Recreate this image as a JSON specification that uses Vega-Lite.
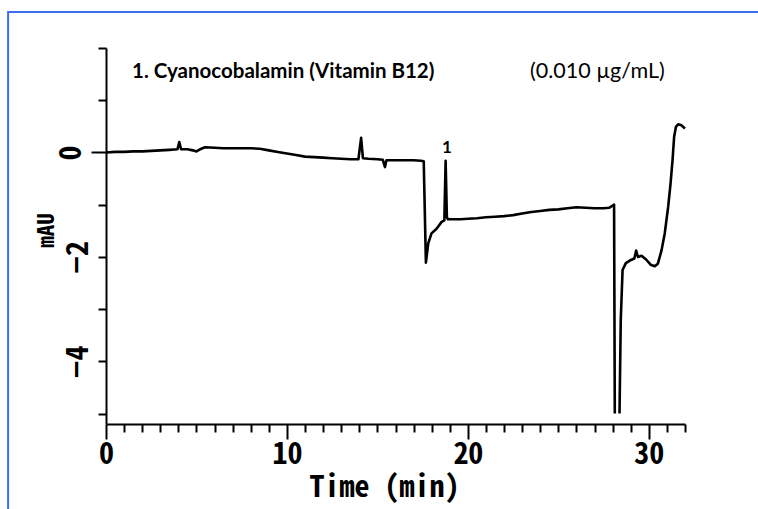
{
  "$schema": "https://vega.github.io/schema/vega-lite/v6.json",
  "width": 579,
  "height": 376,
  "autosize": "none",
  "padding": {"left": 106, "top": 48, "right": 73, "bottom": 85},
  "background": "white",
  "config": {"view": {"stroke": null}},
  "resolve": {"axis": {"x": "independent", "y": "independent"}},
  "datasets": {
    "trace": [
      {"t": 0.0, "v": 0.00}, {"t": 0.5, "v": 0.01}, {"t": 1.0, "v": 0.01}, {"t": 1.5, "v": 0.02},
      {"t": 2.0, "v": 0.02}, {"t": 2.5, "v": 0.03}, {"t": 3.0, "v": 0.04}, {"t": 3.5, "v": 0.05},
      {"t": 3.95, "v": 0.06}, {"t": 4.05, "v": 0.20}, {"t": 4.15, "v": 0.06}, {"t": 4.5, "v": 0.06},
      {"t": 4.8, "v": 0.04}, {"t": 5.0, "v": 0.02}, {"t": 5.2, "v": 0.06}, {"t": 5.47, "v": 0.10},
      {"t": 6.0, "v": 0.09}, {"t": 6.5, "v": 0.08}, {"t": 7.0, "v": 0.08}, {"t": 7.5, "v": 0.08},
      {"t": 8.0, "v": 0.08}, {"t": 8.5, "v": 0.07}, {"t": 9.0, "v": 0.04}, {"t": 9.5, "v": 0.01},
      {"t": 10.0, "v": -0.02}, {"t": 10.5, "v": -0.05}, {"t": 11.0, "v": -0.08}, {"t": 11.5, "v": -0.09},
      {"t": 12.0, "v": -0.10}, {"t": 12.5, "v": -0.11}, {"t": 13.0, "v": -0.12}, {"t": 13.5, "v": -0.13},
      {"t": 13.95, "v": -0.13}, {"t": 14.1, "v": 0.28}, {"t": 14.2, "v": -0.11}, {"t": 14.5, "v": -0.12},
      {"t": 15.0, "v": -0.13}, {"t": 15.3, "v": -0.14}, {"t": 15.42, "v": -0.28}, {"t": 15.5, "v": -0.15},
      {"t": 16.0, "v": -0.15}, {"t": 16.5, "v": -0.15}, {"t": 17.0, "v": -0.15}, {"t": 17.4, "v": -0.16},
      {"t": 17.56, "v": -0.17}, {"t": 17.68, "v": -2.11}, {"t": 17.81, "v": -1.74}, {"t": 17.99, "v": -1.55},
      {"t": 18.27, "v": -1.46}, {"t": 18.55, "v": -1.33}, {"t": 18.7, "v": -1.30}, {"t": 18.77, "v": -0.16},
      {"t": 18.84, "v": -1.24}, {"t": 18.9, "v": -1.28}, {"t": 19.2, "v": -1.28}, {"t": 19.6, "v": -1.28},
      {"t": 20.0, "v": -1.27}, {"t": 20.5, "v": -1.26}, {"t": 21.0, "v": -1.24}, {"t": 21.5, "v": -1.23},
      {"t": 22.0, "v": -1.22}, {"t": 22.5, "v": -1.20}, {"t": 23.0, "v": -1.17}, {"t": 23.5, "v": -1.14},
      {"t": 24.0, "v": -1.12}, {"t": 24.5, "v": -1.10}, {"t": 25.0, "v": -1.09}, {"t": 25.5, "v": -1.07},
      {"t": 26.0, "v": -1.05}, {"t": 26.5, "v": -1.06}, {"t": 27.0, "v": -1.07}, {"t": 27.5, "v": -1.07},
      {"t": 27.8, "v": -1.06}, {"t": 28.0, "v": -1.02}, {"t": 28.08, "v": -1.00}, {"t": 28.12, "v": -5.0},
      {"t": 28.25, "v": null},
      {"t": 28.38, "v": -5.0}, {"t": 28.45, "v": -3.2}, {"t": 28.55, "v": -2.25}, {"t": 28.73, "v": -2.12},
      {"t": 28.95, "v": -2.07}, {"t": 29.2, "v": -2.03}, {"t": 29.3, "v": -1.88}, {"t": 29.4, "v": -2.00},
      {"t": 29.6, "v": -1.98}, {"t": 29.85, "v": -2.05}, {"t": 30.1, "v": -2.15}, {"t": 30.33, "v": -2.18},
      {"t": 30.5, "v": -2.13}, {"t": 30.7, "v": -1.88}, {"t": 30.88, "v": -1.55}, {"t": 31.07, "v": -1.04},
      {"t": 31.2, "v": -0.60}, {"t": 31.31, "v": -0.15}, {"t": 31.4, "v": 0.30}, {"t": 31.5, "v": 0.49},
      {"t": 31.62, "v": 0.54}, {"t": 31.8, "v": 0.52}, {"t": 32.0, "v": 0.46}
    ],
    "peaks": [{"label": "1", "t": 18.84, "v": -0.01}]
  },
  "layer": [
    {
      "data": {"values": [{}]},
      "mark": {"type": "rect", "filled": false, "stroke": "#3d6ef0", "strokeWidth": 2, "clip": false},
      "encoding": {
        "x": {"datum": -5.41, "type": "quantitative", "axis": null},
        "x2": {"datum": 40},
        "y": {"datum": 2.69, "type": "quantitative", "axis": null},
        "y2": {"datum": -9}
      }
    },
    {
      "data": {"name": "trace"},
      "mark": {"type": "line", "color": "black", "strokeWidth": 2.6, "strokeJoin": "round", "clip": false},
      "encoding": {
        "x": {
          "field": "t", "type": "quantitative",
          "scale": {"domain": [0, 32], "nice": false, "zero": false},
          "axis": {
            "values": [0,1,2,3,4,5,6,7,8,9,10,11,12,13,14,15,16,17,18,19,20,21,22,23,24,25,26,27,28,29,30,31,32],
            "labelExpr": "datum.value % 10 === 0 ? datum.label : ''",
            "labelOverlap": false, "labelFlush": false, "grid": false,
            "tickSize": {"condition": {"test": "datum.value % 10 === 0", "value": 15}, "value": 8},
            "tickColor": "black", "tickWidth": 2, "domainColor": "black", "domainWidth": 2,
            "labelFont": "Noto Sans Mono CJK JP",
            "labelFontSize": 30, "labelFontWeight": "bold", "labelColor": "black",
            "labelBaseline": "alphabetic", "labelPadding": 24,
            "title": "Time (min)",
            "titleFont": "Noto Sans Mono CJK JP",
            "titleFontSize": 30, "titleFontWeight": "bold", "titleColor": "black",
            "titleX": 278, "titleY": 72, "titleBaseline": "alphabetic", "titleAlign": "center"
          }
        },
        "y": {
          "field": "v", "type": "quantitative",
          "scale": {"domain": [-5.2, 2], "nice": false, "zero": false},
          "axis": {
            "values": [-5,-4,-3,-2,-1,0,1,2],
            "labelExpr": "(datum.value === 0 || datum.value === -2 || datum.value === -4) ? datum.label : ''",
            "labelOverlap": false, "labelFlush": false, "grid": false,
            "tickSize": {"condition": {"test": "datum.value === 0", "value": 15}, "value": 8},
            "tickColor": "black", "tickWidth": 2, "domainColor": "black", "domainWidth": 2,
            "labelFont": "Noto Sans Mono CJK JP",
            "labelFontSize": 30, "labelFontWeight": "bold", "labelColor": "black",
            "labelAngle": -90, "labelAlign": "center", "labelBaseline": "alphabetic", "labelPadding": 11,
            "title": "mAU",
            "titleFont": "Noto Sans Mono CJK JP",
            "titleFontSize": 23, "titleFontWeight": "bold", "titleColor": "black",
            "titleAngle": -90, "titleX": -53, "titleY": 182, "titleBaseline": "alphabetic", "titleAlign": "center"
          }
        }
      }
    },
    {
      "data": {"name": "peaks"},
      "mark": {"type": "text", "font": "Lato", "fontSize": 17, "fontWeight": "bold", "color": "black", "align": "center", "baseline": "alphabetic"},
      "encoding": {
        "x": {"field": "t", "type": "quantitative", "axis": null},
        "y": {"field": "v", "type": "quantitative", "axis": null},
        "text": {"field": "label"}
      }
    },
    {
      "data": {"values": [{}]},
      "mark": {"type": "text", "text": "1. Cyanocobalamin (Vitamin B12)", "font": "Lato", "fontSize": 20.5, "fontWeight": "bold", "color": "black", "align": "left", "baseline": "alphabetic"},
      "encoding": {
        "x": {"datum": 1.44, "type": "quantitative", "axis": null},
        "y": {"datum": 1.43, "type": "quantitative", "axis": null}
      }
    },
    {
      "data": {"values": [{}]},
      "mark": {"type": "text", "text": "(0.010 µg/mL)", "font": "Lato", "fontSize": 21.5, "fontWeight": "normal", "color": "black", "align": "left", "baseline": "alphabetic"},
      "encoding": {
        "x": {"datum": 23.43, "type": "quantitative", "axis": null},
        "y": {"datum": 1.43, "type": "quantitative", "axis": null}
      }
    }
  ]
}
